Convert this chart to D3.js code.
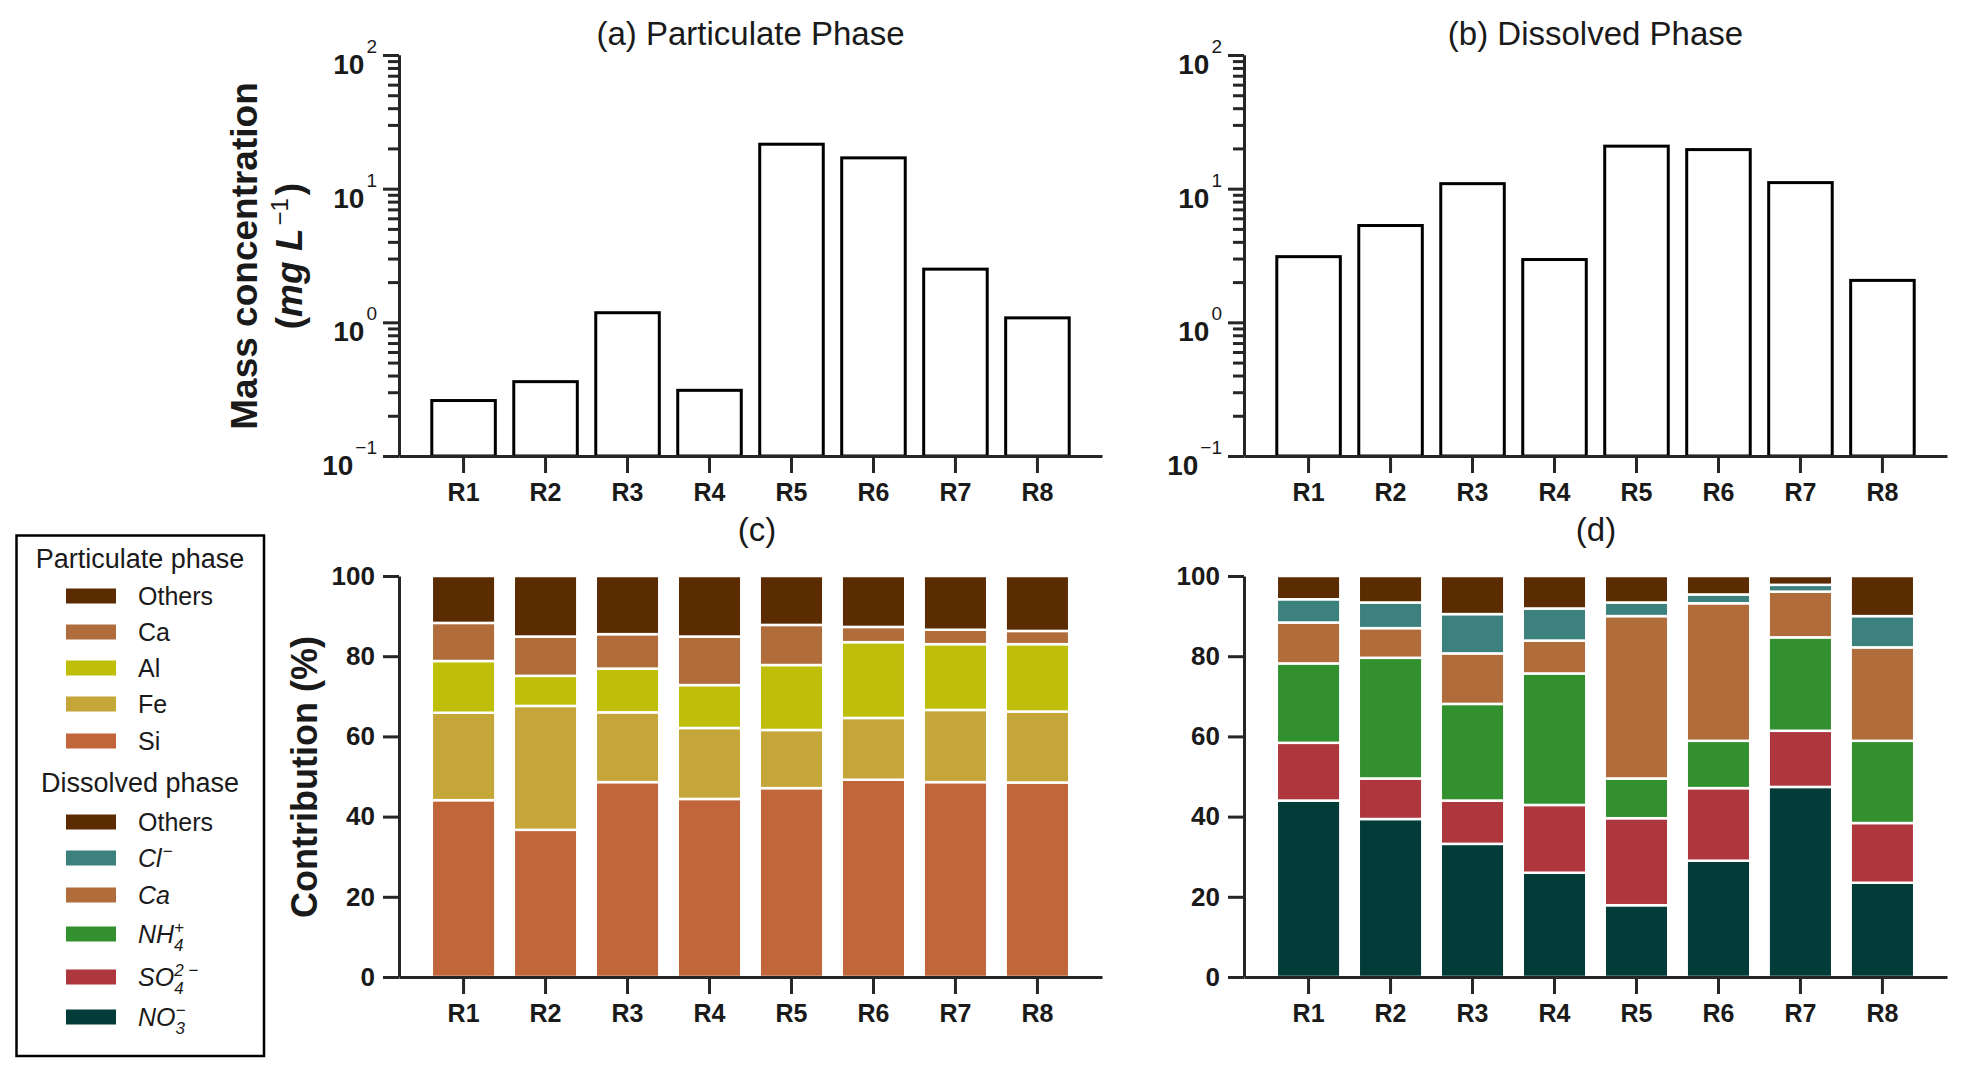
<!DOCTYPE html>
<html>
<head>
<meta charset="utf-8">
<style>
  body { margin: 0; background: #fff; }
  text { font-family: "Liberation Sans", Arial, sans-serif; fill: #1a1a1a; }
  .axis path, .axis line { stroke: #262626; stroke-width: 3; }
  .axis text { font-family: "Liberation Sans", Arial, sans-serif; fill: #1a1a1a; font-weight: bold; }
  .xaxis text { font-size: 25px; }
  .yaxis text { font-size: 26px; }
</style>
</head>
<body>
<div id="chart"></div>
<script src="https://d3js.org/d3.v7.min.js"></script>
<script>
// sites on the x axis
const sites = ['R1', 'R2', 'R3', 'R4', 'R5', 'R6', 'R7', 'R8'];

// (a) and (b) mass concentration, mg/L
const particulateMass = [0.26, 0.36, 1.18, 0.31, 21.5, 17.0, 2.5, 1.08];
const dissolvedMass = [3.1, 5.3, 10.9, 2.95, 20.8, 19.6, 11.1, 2.06];

// (c) particulate contribution, %
const partSi = [44.1, 36.7, 48.6, 44.4, 47.1, 49.2, 48.6, 48.5];
const partFe = [21.8, 30.9, 17.4, 17.7, 14.5, 15.4, 18.0, 17.7];
const partAl = [12.9, 7.5, 10.9, 10.7, 16.2, 18.9, 16.4, 16.8];
const partCa = [9.5, 9.8, 8.6, 12.1, 10.0, 3.8, 3.6, 3.3];
const partOthers = [11.7, 15.1, 14.5, 15.1, 12.2, 12.7, 13.4, 13.7];

// (d) dissolved contribution, %
const dissNO3 = [44.0, 39.4, 33.2, 26.0, 17.9, 29.0, 47.4, 23.5];
const dissSO4 = [14.4, 10.1, 10.8, 16.9, 21.7, 18.1, 14.0, 14.9];
const dissNH4 = [19.8, 30.1, 24.1, 32.8, 9.9, 11.8, 23.3, 20.5];
const dissCa = [10.2, 7.4, 12.6, 8.2, 40.5, 34.3, 11.4, 23.3];
const dissCl = [5.8, 6.4, 9.8, 8.0, 3.4, 2.2, 1.7, 7.8];
const dissOthers = [5.8, 6.6, 9.5, 8.1, 6.6, 4.6, 2.2, 10.0];

// axis ticks
const logTicks = [0.1, 1, 10, 100];
const logExponents = ['\u22121', '0', '1', '2'];
const pctTicks = [0, 20, 40, 60, 80, 100];

const partKeys = ['Si', 'Fe', 'Al', 'Ca', 'Others'];
const dissKeys = ['NO3', 'SO4', 'NH4', 'Ca', 'Cl', 'Others'];

const partColors = {Si: '#c1663a', Fe: '#c4a639', Al: '#bebe0b', Ca: '#b06d3b', Others: '#5b2b02'};
const dissColors = {NO3: '#033b39', SO4: '#ad373d', NH4: '#33902f', Ca: '#b06d3b', Cl: '#3d817e', Others: '#5b2b02'};

const partRows = sites.map((s, i) => ({site: s, Si: partSi[i], Fe: partFe[i], Al: partAl[i], Ca: partCa[i], Others: partOthers[i]}));
const dissRows = sites.map((s, i) => ({site: s, NO3: dissNO3[i], SO4: dissSO4[i], NH4: dissNH4[i], Ca: dissCa[i], Cl: dissCl[i], Others: dissOthers[i]}));

const width = 1972;
const height = 1074;

const svg = d3.select('#chart')
  .append('svg')
  .attr('width', width)
  .attr('height', height);

// panel geometry
const leftCols = [399, 1244];
const plotW = 703;
const topRow = {top: 55, bottom: 456};
const botRow = {top: 576, bottom: 977};

function xScale(x0) {
  return d3.scaleBand()
    .domain(sites)
    .range([x0, x0 + plotW])
    .paddingInner(0.225)
    .paddingOuter(0.4);
}

function drawXAxis(x, yPos) {
  svg.append('g')
    .attr('class', 'axis xaxis')
    .attr('transform', `translate(0,${yPos})`)
    .call(d3.axisBottom(x).tickSize(17).tickSizeOuter(0).tickPadding(10));
}

function logPanel(x0, values, title) {
  const x = xScale(x0);
  const y = d3.scaleLog().domain([0.1, 100]).range([topRow.bottom, topRow.top]);

  svg.append('g')
    .selectAll('rect')
    .data(values)
    .enter().append('rect')
      .attr('x', (d, i) => x(sites[i]))
      .attr('y', d => y(d))
      .attr('width', x.bandwidth())
      .attr('height', d => y(0.1) - y(d))
      .style('fill', '#fff')
      .style('stroke', '#000')
      .style('stroke-width', 3);

  // minor ticks
  const minor = [];
  [0.1, 1, 10].forEach(dec => d3.range(2, 10).forEach(k => minor.push(k * dec)));
  svg.append('g')
    .attr('class', 'axis')
    .attr('transform', `translate(${x0},0)`)
    .call(d3.axisLeft(y).tickValues(minor).tickSize(11).tickSizeOuter(0).tickFormat(''));

  svg.append('g')
    .attr('class', 'axis')
    .attr('transform', `translate(${x0},0)`)
    .call(d3.axisLeft(y).tickValues(logTicks).tickSize(16).tickSizeOuter(0).tickFormat(''));

  const lab = svg.append('g')
    .selectAll('text')
    .data(logTicks)
    .enter().append('text')
      .attr('x', x0 - 22)
      .attr('y', d => y(d) + 19)
      .attr('text-anchor', 'end');
  lab.append('tspan')
    .style('font-size', '28px')
    .style('font-weight', 'bold')
    .text('10');
  lab.append('tspan')
    .attr('dx', 2)
    .attr('dy', -21)
    .style('font-size', '19px')
    .text((d, i) => logExponents[i]);

  drawXAxis(x, topRow.bottom);

  svg.append('text')
    .attr('x', x0 + plotW / 2)
    .attr('y', 45)
    .attr('text-anchor', 'middle')
    .style('font-size', '33px')
    .text(title);
}

function stackPanel(x0, rows, keys, colors, title, titleX) {
  const x = xScale(x0);
  const y = d3.scaleLinear().domain([0, 100]).range([botRow.bottom, botRow.top]);
  const series = d3.stack().keys(keys)(rows);

  svg.append('g')
    .selectAll('g')
    .data(series)
    .enter().append('g')
      .style('fill', d => colors[d.key])
    .selectAll('rect')
    .data(d => d)
    .enter().append('rect')
      .attr('x', d => x(d.data.site))
      .attr('y', d => y(d[1]))
      .attr('width', x.bandwidth())
      .attr('height', d => y(d[0]) - y(d[1]))
      .style('stroke', '#fff')
      .style('stroke-width', 2.5);

  svg.append('g')
    .attr('class', 'axis yaxis')
    .attr('transform', `translate(${x0},0)`)
    .call(d3.axisLeft(y).tickValues(pctTicks).tickSize(16).tickSizeOuter(0).tickPadding(8));

  drawXAxis(x, botRow.bottom);

  svg.append('text')
    .attr('x', titleX)
    .attr('y', 541)
    .attr('text-anchor', 'middle')
    .style('font-size', '33px')
    .text(title);
}

logPanel(leftCols[0], particulateMass, '(a) Particulate Phase');
logPanel(leftCols[1], dissolvedMass, '(b) Dissolved Phase');
stackPanel(leftCols[0], partRows, partKeys, partColors, '(c)', 757);
stackPanel(leftCols[1], dissRows, dissKeys, dissColors, '(d)', 1596);

// y axis titles
svg.append('text')
  .attr('transform', 'translate(257,256) rotate(-90)')
  .attr('text-anchor', 'middle')
  .style('font-size', '37px')
  .style('font-weight', 'bold')
  .text('Mass concentration');

const unit = svg.append('text')
  .attr('transform', 'translate(302,256) rotate(-90)')
  .attr('text-anchor', 'middle')
  .style('font-size', '37px')
  .style('font-weight', 'bold');
unit.append('tspan').text('(');
unit.append('tspan').style('font-style', 'italic').text('mg L');
unit.append('tspan').attr('dx', 3).attr('dy', -14).style('font-size', '24px').style('font-weight', 'normal').text('\u22121');
unit.append('tspan').attr('dx', 3).attr('dy', 14).text(')');

svg.append('text')
  .attr('transform', 'translate(317,777) rotate(-90)')
  .attr('text-anchor', 'middle')
  .style('font-size', '36px')
  .style('font-weight', 'bold')
  .text('Contribution (%)');

// legend
const legend = svg.append('g');
legend.append('rect')
  .attr('x', 16.5)
  .attr('y', 535.5)
  .attr('width', 247.5)
  .attr('height', 520.5)
  .style('fill', 'none')
  .style('stroke', '#000')
  .style('stroke-width', 2.5);

const partLegend = [
  {key: 'Others', label: 'Others', cy: 596},
  {key: 'Ca', label: 'Ca', cy: 632},
  {key: 'Al', label: 'Al', cy: 668},
  {key: 'Fe', label: 'Fe', cy: 704},
  {key: 'Si', label: 'Si', cy: 741}
];
const dissLegend = [
  {key: 'Others', label: 'Others', cy: 822, plain: true},
  {key: 'Cl', label: 'Cl', sup: '\u2212', cy: 858},
  {key: 'Ca', label: 'Ca', cy: 895},
  {key: 'NH4', label: 'NH', sub: '4', sup: '+', cy: 934},
  {key: 'SO4', label: 'SO', sub: '4', sup: '2 \u2212', cy: 977},
  {key: 'NO3', label: 'NO', sub: '3', sup: '\u2212', cy: 1017}
];

legend.append('text').attr('x', 140).attr('y', 568).attr('text-anchor', 'middle')
  .style('font-size', '27px').text('Particulate phase');
legend.append('text').attr('x', 140).attr('y', 792).attr('text-anchor', 'middle')
  .style('font-size', '27px').text('Dissolved phase');

function legendItems(items, colors, italic) {
  items.forEach(it => {
    legend.append('rect')
      .attr('x', 66)
      .attr('y', it.cy - 7.5)
      .attr('width', 50)
      .attr('height', 15)
      .style('fill', colors[it.key]);
    const t = legend.append('text')
      .attr('x', 138)
      .attr('y', it.cy + 9)
      .style('font-size', '25px')
      .style('font-style', italic && !it.plain ? 'italic' : 'normal');
    t.append('tspan').text(it.label);
    let subW = 0;
    if (it.sub) {
      const s = t.append('tspan').attr('dy', 8).style('font-size', '17px').text(it.sub);
      subW = s.node().getComputedTextLength();
    }
    if (it.sup) {
      t.append('tspan')
        .attr('dx', it.sub ? -subW : 1)
        .attr('dy', it.sub ? -18 : -10)
        .style('font-size', '17px')
        .text(it.sup);
    }
  });
}
legendItems(partLegend, partColors, false);
legendItems(dissLegend, dissColors, true);
</script>
</body>
</html>
